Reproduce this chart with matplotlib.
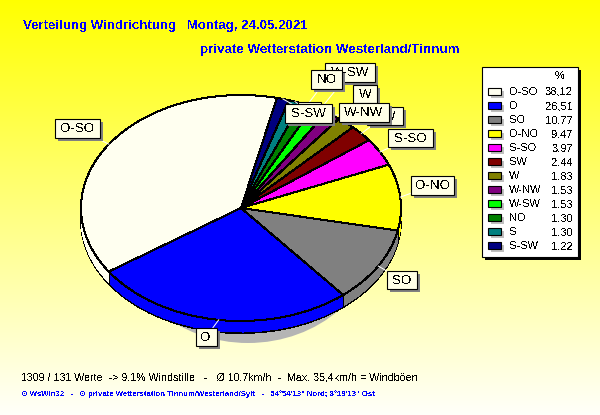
import numpy as np
import matplotlib
matplotlib.use("Agg")
import matplotlib.pyplot as plt
from matplotlib.patches import Rectangle, Ellipse

plt.rcParams['font.family'] = ['Liberation Sans', 'DejaVu Sans']
plt.rcParams['text.antialiased'] = False

# data, in legend order
names = ['O-SO', 'O', 'SO', 'O-NO', 'S-SO', 'SW', 'W', 'W-NW', 'W-SW', 'NO', 'S', 'S-SW']
values = [38.12, 26.51, 10.77, 9.47, 3.97, 2.44, 1.83, 1.53, 1.53, 1.30, 1.30, 1.22]
value_labels = ['38,12', '26,51', '10,77', '9,47', '3,97', '2,44', '1,83', '1,53', '1,53', '1,30', '1,30', '1,22']
colors = ['#FFFFF0', '#0000FF', '#808080', '#FFFF00', '#FF00FF', '#800000',
          '#808000', '#800080', '#00FF00', '#008000', '#008080', '#000080']

# label boxes in pixels: centre x, centre y, width; later ones lie on top
label_box = {'O-SO': (77.5, 128.5, 45), 'O': (206, 337, 21), 'SO': (402, 280, 30),
             'O-NO': (432.5, 185.5, 43), 'SW': (385, 116, 36), 'S-SO': (410.5, 138, 45),
             'W-SW': (350, 72.5, 50), 'NO': (326.5, 79.5, 31), 'W': (365, 94, 24),
             'W-NW': (364, 112.5, 50), 'S': (309, 111, 23), 'S-SW': (308.5, 113.5, 47)}
label_order = ['O-SO', 'O', 'SO', 'O-NO', 'SW', 'S-SO', 'W-SW', 'NO', 'W', 'W-NW', 'S', 'S-SW']

W, H = 600, 415
cx, cy, rx, ry = 241, 208, 160, 113
depth = 12
start = 77  # degrees, matplotlib convention

fig = plt.figure(figsize=(W / 100, H / 100), dpi=100)

# background gradient
bg = fig.add_axes([0, 0, 1, 1])
grad = np.ones((H, 1, 3))
grad[:, 0, 2] = np.linspace(0, 0.98, H)
bg.imshow(grad, aspect='auto', extent=(0, W, H, 0))
bg.axis('off')
bg.add_patch(Ellipse((248, 228), 260, 230, fc='#B4B4B4', ec='none'))

# pie: axes in units of radius, squeezed to the ellipse
ax = fig.add_axes([0, 0, 1, 1])
ax.patch.set_alpha(0)


# clockwise from S-SW, so the order is reversed
def draw_pie(offset, edge):
    wedges, _ = ax.pie(values[::-1], colors=colors[::-1], startangle=start, counterclock=False,
                       center=(0, -offset / ry), radius=1,
                       wedgeprops=dict(linewidth=0.72 if edge else 0, edgecolor='black' if edge else 'none',
                                       antialiased=False))
    return wedges


draw_pie(depth, True)
for d in range(depth - 1, 0, -1):
    draw_pie(d, False)
draw_pie(0, True)
ax.set_aspect('auto')
ax.set_xlim(-cx / rx, (W - cx) / rx)
ax.set_ylim(-(H - cy) / ry, cy / ry)
ax.axis('off')

# overlay in pixel coordinates
ov = fig.add_axes([0, 0, 1, 1])
ov.set_xlim(0, W)
ov.set_ylim(H, 0)
ov.axis('off')
ov.patch.set_alpha(0)

vals = np.array(values[::-1])
edges = start - np.concatenate([[0], np.cumsum(vals)]) * 3.6
mids = dict(zip(names[::-1], np.radians((edges[:-1] + edges[1:]) / 2)))

# vertical edges of the rim where slices meet on the front side
for e in np.radians(edges):
    if np.sin(e) < 0:
        x0, y0 = cx + rx * np.cos(e), cy - ry * np.sin(e)
        ov.plot([x0, x0], [y0, y0 + depth], color='black', lw=0.72, antialiased=False, zorder=1)

# leader lines from the rim to the boxes
for n in names:
    a = mids[n]
    x0, y0 = cx + rx * np.cos(a), cy - ry * np.sin(a)
    lx, ly, _ = label_box[n]
    ov.plot([x0, lx], [y0, ly], color='white', lw=0.72, zorder=2)

# label boxes
for i, n in enumerate(label_order):
    lx, ly, w = label_box[n]
    h = 18.5
    z = 3 + i
    ov.add_patch(Rectangle((lx - w / 2 + 3, ly - h / 2 + 3), w, h, fc='#808080', ec='none', zorder=z))
    ov.add_patch(Rectangle((lx - w / 2, ly - h / 2), w, h, fc='#FFFFE6', ec='black', lw=0.8, zorder=z))
    ov.text(lx, ly + 0.5, n, ha='center', va='center', fontsize=9.6, color='black', zorder=z)

# titles
ov.text(23, 26, 'Verteilung Windrichtung   Montag, 24.05.2021', fontsize=9.5, fontweight='bold',
        color='#0000FF', va='center')
ov.text(200, 49.5, 'private Wetterstation Westerland/Tinnum', fontsize=9.6, fontweight='bold',
        color='#0000FF', va='center')

# legend
lx0, ly0, lw, lh = 482, 67, 96, 190
ov.add_patch(Rectangle((lx0 + 3, ly0 + 3), lw, lh, fc='black', ec='none', zorder=20))
ov.add_patch(Rectangle((lx0, ly0), lw, lh, fc='white', ec='black', lw=0.8, zorder=21))
ov.text(560, 76, '%', fontsize=8, ha='center', va='center', zorder=22)
for i, (n, v, c) in enumerate(zip(names, value_labels, colors)):
    y = 92 + i * 14
    ov.add_patch(Rectangle((491, y - 1), 13, 7, fc='#C0C0C0', ec='none', zorder=22))
    ov.add_patch(Rectangle((488, y - 4), 13, 7, fc=c, ec='black', lw=0.8, zorder=23))
    ov.text(509, y, n, fontsize=8, va='center', zorder=23)
    ov.text(573, y, v, fontsize=8, va='center', ha='right', zorder=23)

# footer
ov.text(21, 377, '1309 / 131 Werte  -> 9.1% Windstille   -   Ø 10,7km/h  -  Max. 35,4km/h = Windböen',
        fontsize=7.7, va='center', color='black')
ov.text(21, 394, '⊙ WsWin32   -   ⊙ private Wetterstation Tinnum/Westerland/Sylt   -   54°54\'13" Nord; 8°19\'13" Ost',
        fontsize=5.6, va='center', color='#0000FF', fontweight='bold')

fig.savefig('out.png', dpi=100)
